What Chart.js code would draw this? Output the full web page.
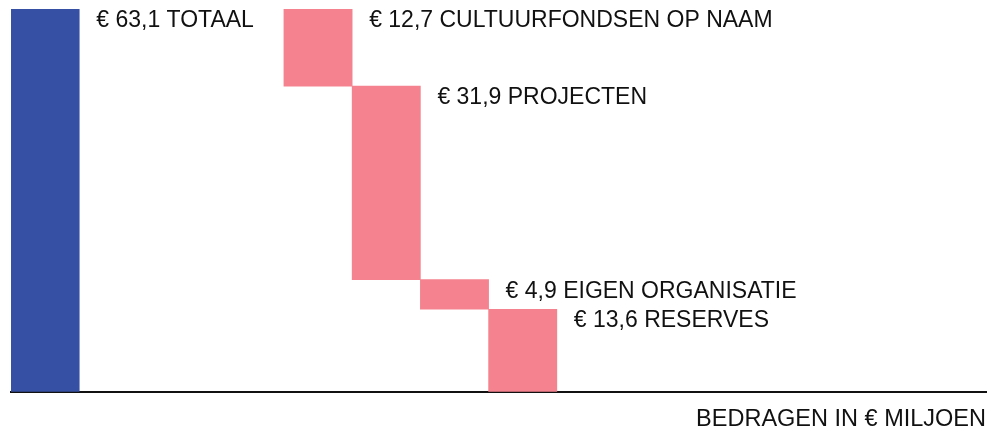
<!DOCTYPE html>
<html>
<head>
<meta charset="utf-8">
<script src="https://cdn.jsdelivr.net/npm/chart.js@4/dist/chart.umd.min.js"></script>
<style>
html,body{margin:0;padding:0;background:#fff;}
#wrap{width:1002px;height:429px;position:relative;}
</style>
</head>
<body>
<div id="wrap"><canvas id="c" width="1002" height="429"></canvas></div>
<script>
// ---- data ----
const categories = ['TOTAAL', 'CULTUURFONDSEN OP NAAM', 'PROJECTEN', 'EIGEN ORGANISATIE', 'RESERVES'];
const values = [63.1, 12.7, 31.9, 4.9, 13.6];
const kinds = ['total', 'out', 'out', 'out', 'out'];
const slots = [0.5, 4.5, 5.5, 6.5, 7.5];
const axisTitle = 'BEDRAGEN IN € MILJOEN';

// waterfall ranges built from values
const ranges = [];
let running = 0;
values.forEach((v, i) => {
  if (kinds[i] === 'total') { ranges.push([0, v]); running = v; }
  else { ranges.push([running - v, running]); running = running - v; }
});
const points = ranges.map((r, i) => ({ x: slots[i], y: r }));
const colors = kinds.map(k => k === 'total' ? '#3650a3' : '#f5838f');

const FONT = '"Liberation Sans", Arial, Helvetica, sans-serif';
const fmt = v => '€ ' + v.toFixed(1).replace('.', ',');

const labelPlugin = {
  id: 'barLabels',
  afterDatasetsDraw(chart) {
    const ctx = chart.ctx;
    const meta = chart.getDatasetMeta(0);
    ctx.save();
    ctx.font = '23px ' + FONT;
    ctx.fillStyle = '#111';
    ctx.textAlign = 'left';
    ctx.textBaseline = 'alphabetic';
    meta.data.forEach((el, i) => {
      const p = el.getProps(['x', 'y', 'base', 'width'], true);
      const top = Math.min(p.y, p.base);
      const right = p.x + p.width / 2;
      ctx.fillText(fmt(values[i]) + ' ' + categories[i], right + 17, top + 18);
    });
    ctx.restore();
  }
};

new Chart(document.getElementById('c'), {
  type: 'bar',
  data: {
    datasets: [{
      data: points,
      backgroundColor: colors,
      borderWidth: 0,
      barPercentage: 1,
      categoryPercentage: 1,
      grouped: false
    }]
  },
  options: {
    responsive: false,
    animation: false,
    events: [],
    layout: { padding: { left: 11, right: 16, top: 9, bottom: 0 } },
    plugins: { legend: { display: false }, tooltip: { enabled: false } },
    scales: {
      x: {
        type: 'linear',
        offset: false,
        min: 0,
        max: 14.29,
        ticks: { display: false },
        grid: { display: false, drawTicks: false, offset: false },
        border: { display: true, color: '#111', width: 2 },
        title: {
          display: true,
          text: axisTitle,
          align: 'end',
          color: '#111',
          font: { family: FONT, size: 23.5, lineHeight: 1.2 },
          padding: { top: 13.5, bottom: -4.5 }
        }
      },
      y: {
        display: false,
        min: 0,
        max: 63.1
      }
    }
  },
  plugins: [labelPlugin]
});
</script>
</body>
</html>
